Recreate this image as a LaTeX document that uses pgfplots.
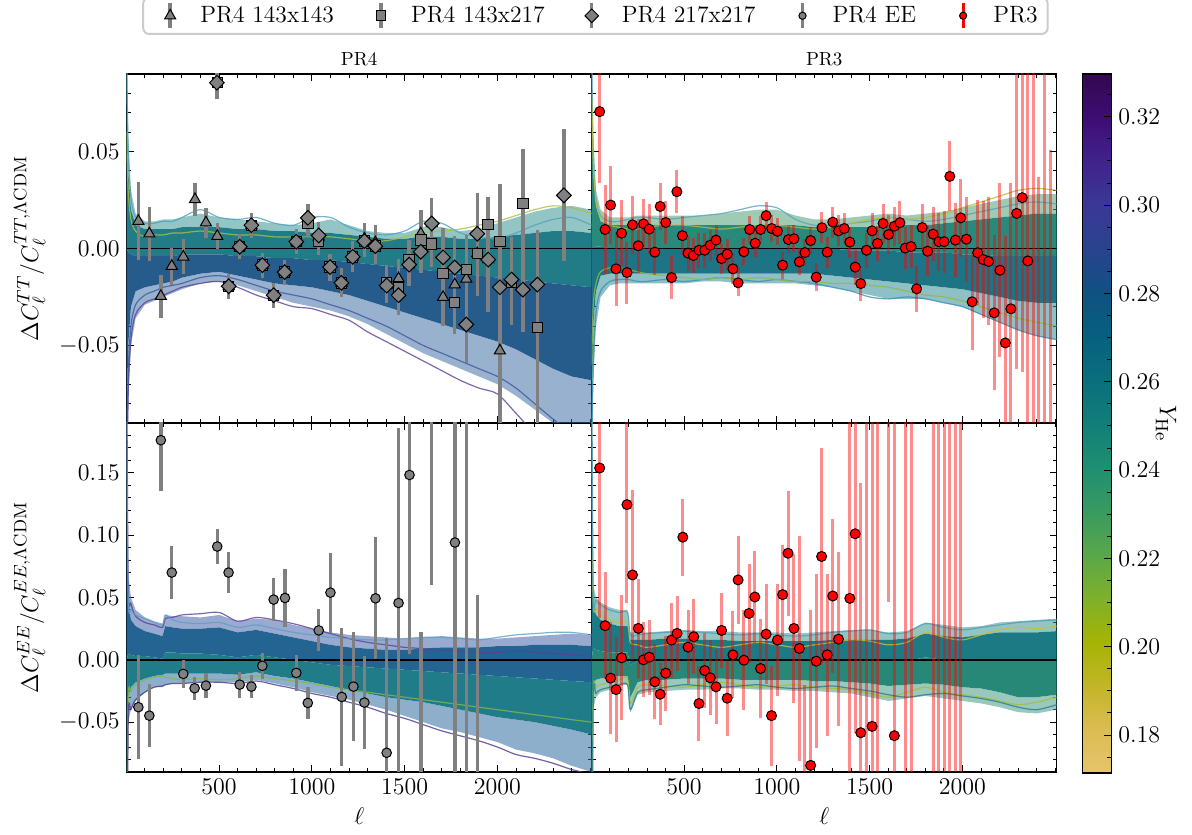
\documentclass[border=0pt]{standalone}
\usepackage{pgfplots}
\pgfplotsset{compat=1.18}
\usepackage{pgfplotstable}
\usepgfplotslibrary{groupplots,fillbetween}

\pgfplotsset{colormap={yhe}{
rgb255=(229,196,107) rgb255=(219,189,82) rgb255=(194,181,40) rgb255=(165,180,4)
rgb255=(127,176,41) rgb255=(90,167,73) rgb255=(56,154,96) rgb255=(31,143,113)
rgb255=(17,127,120) rgb255=(10,111,124) rgb255=(6,96,126) rgb255=(15,81,129)
rgb255=(41,67,141) rgb255=(58,56,150) rgb255=(64,35,140) rgb255=(62,13,116)
rgb255=(52,8,80)
}}

% ---------- model bands (envelopes + a few curves) ----------
\pgfplotstableread{
l uo ui m li lo a b c d
2 0.120 0.090 0.000 -0.090 -0.140 0.100 0.060 -0.140 -0.120
10 0.060 0.040 -0.002 -0.050 -0.080 0.050 0.030 -0.075 -0.065
25 0.030 0.020 -0.003 -0.030 -0.050 0.026 0.015 -0.047 -0.040
50 0.018 0.012 -0.004 -0.022 -0.036 0.016 0.009 -0.034 -0.029
100 0.014 0.010 -0.004 -0.020 -0.029 0.013 0.006 -0.028 -0.024
150 0.014 0.010 -0.004 -0.019 -0.027 0.013 0.007 -0.026 -0.022
200 0.015 0.010 -0.004 -0.018 -0.025 0.014 0.007 -0.024 -0.020
250 0.015 0.010 -0.004 -0.017 -0.023 0.014 0.008 -0.022 -0.019
300 0.016 0.011 -0.003 -0.015 -0.021 0.016 0.008 -0.020 -0.018
400 0.018 0.011 -0.003 -0.013 -0.018 0.020 0.009 -0.018 -0.015
500 0.016 0.011 -0.003 -0.012 -0.017 0.016 0.008 -0.017 -0.014
600 0.015 0.010 -0.004 -0.014 -0.019 0.015 0.007 -0.020 -0.016
700 0.014 0.010 -0.004 -0.016 -0.022 0.016 0.007 -0.024 -0.019
800 0.013 0.009 -0.005 -0.018 -0.025 0.013 0.006 -0.027 -0.022
900 0.012 0.009 -0.005 -0.019 -0.028 0.012 0.006 -0.030 -0.024
1000 0.013 0.008 -0.006 -0.020 -0.030 0.016 0.006 -0.031 -0.026
1100 0.015 0.008 -0.006 -0.022 -0.032 0.016 0.006 -0.034 -0.029
1200 0.012 0.007 -0.007 -0.024 -0.035 0.011 0.005 -0.037 -0.032
1300 0.009 0.006 -0.008 -0.027 -0.039 0.008 0.004 -0.043 -0.036
1400 0.008 0.005 -0.009 -0.030 -0.044 0.007 0.004 -0.048 -0.040
1500 0.008 0.005 -0.010 -0.033 -0.049 0.009 0.006 -0.053 -0.045
1600 0.011 0.006 -0.011 -0.036 -0.054 0.014 0.008 -0.058 -0.050
1700 0.011 0.006 -0.012 -0.039 -0.058 0.013 0.009 -0.063 -0.054
1800 0.009 0.005 -0.013 -0.042 -0.062 0.008 0.010 -0.068 -0.058
1900 0.010 0.005 -0.014 -0.045 -0.066 0.006 0.012 -0.072 -0.062
2000 0.013 0.006 -0.015 -0.048 -0.070 0.005 0.014 -0.075 -0.066
2100 0.016 0.007 -0.016 -0.052 -0.076 0.008 0.017 -0.085 -0.072
2200 0.019 0.008 -0.017 -0.057 -0.083 0.012 0.020 -0.095 -0.080
2300 0.021 0.009 -0.018 -0.062 -0.090 0.015 0.022 -0.100 -0.088
2400 0.022 0.009 -0.019 -0.066 -0.095 0.016 0.021 -0.105 -0.095
2508 0.020 0.008 -0.020 -0.068 -0.100 0.012 0.018 -0.110 -0.100
}\bandA

\pgfplotstableread{
l uo ui m li lo a b c d
2 0.120 0.090 0.000 -0.090 -0.120 0.100 0.080 -0.110 -0.060
10 0.060 0.040 0.000 -0.040 -0.070 0.050 0.045 -0.060 -0.030
25 0.030 0.022 0.001 -0.022 -0.040 0.026 0.024 -0.033 -0.018
50 0.020 0.014 0.001 -0.014 -0.025 0.017 0.016 -0.022 -0.012
100 0.016 0.012 0.000 -0.013 -0.019 0.014 0.012 -0.017 -0.010
150 0.016 0.012 0.000 -0.013 -0.018 0.014 0.011 -0.016 -0.010
200 0.016 0.012 0.000 -0.013 -0.018 0.015 0.010 -0.016 -0.011
250 0.017 0.012 0.000 -0.013 -0.018 0.016 0.010 -0.017 -0.012
300 0.017 0.012 0.000 -0.013 -0.018 0.016 0.011 -0.017 -0.013
400 0.017 0.012 0.000 -0.013 -0.018 0.015 0.012 -0.016 -0.014
500 0.017 0.012 0.000 -0.013 -0.018 0.016 0.012 -0.017 -0.015
600 0.017 0.012 0.000 -0.013 -0.017 0.017 0.011 -0.016 -0.016
700 0.018 0.012 0.000 -0.013 -0.017 0.018 0.010 -0.015 -0.015
800 0.019 0.012 0.000 -0.013 -0.018 0.020 0.011 -0.016 -0.016
900 0.020 0.012 0.000 -0.013 -0.018 0.022 0.012 -0.017 -0.015
1000 0.020 0.012 0.000 -0.013 -0.018 0.021 0.012 -0.016 -0.016
1100 0.017 0.012 0.000 -0.013 -0.018 0.015 0.011 -0.017 -0.017
1200 0.015 0.011 0.000 -0.013 -0.019 0.012 0.010 -0.018 -0.017
1300 0.015 0.011 0.000 -0.014 -0.020 0.012 0.011 -0.020 -0.018
1400 0.016 0.011 -0.001 -0.015 -0.022 0.013 0.013 -0.022 -0.018
1500 0.017 0.011 -0.001 -0.016 -0.024 0.014 0.015 -0.025 -0.019
1600 0.018 0.012 -0.001 -0.017 -0.026 0.016 0.016 -0.026 -0.020
1700 0.017 0.012 -0.002 -0.018 -0.026 0.015 0.015 -0.025 -0.022
1800 0.018 0.012 -0.002 -0.019 -0.026 0.014 0.016 -0.026 -0.024
1900 0.019 0.013 -0.002 -0.020 -0.028 0.015 0.018 -0.028 -0.025
2000 0.021 0.014 -0.003 -0.021 -0.030 0.017 0.021 -0.030 -0.027
2100 0.023 0.015 -0.003 -0.023 -0.034 0.019 0.024 -0.034 -0.030
2200 0.025 0.016 -0.004 -0.025 -0.038 0.021 0.027 -0.038 -0.033
2300 0.027 0.017 -0.004 -0.027 -0.042 0.023 0.030 -0.042 -0.036
2400 0.028 0.018 -0.004 -0.028 -0.045 0.024 0.031 -0.045 -0.038
2508 0.028 0.018 -0.004 -0.028 -0.047 0.023 0.030 -0.047 -0.040
}\bandB

\pgfplotstableread{
l uo ui m li lo a b c d
2 0.250 0.200 0.000 -0.200 -0.250 0.25 -0.2 -0.25 0.2
10 0.070 0.045 0.005 -0.030 -0.050 0.06 -0.035 -0.05 0.05
25 0.050 0.032 0.004 -0.022 -0.040 0.045 -0.025 -0.04 0.04
50 0.040 0.027 0.003 -0.018 -0.033 0.035 -0.02 -0.032 0.036
100 0.034 0.023 0.003 -0.015 -0.026 0.03 -0.016 -0.026 0.033
150 0.031 0.021 0.002 -0.013 -0.022 0.028 -0.014 -0.022 0.030
195 0.029 0.019 0.001 -0.012 -0.022 0.026 -0.013 -0.021 0.028
210 0.036 0.027 0.006 -0.011 -0.020 0.033 -0.014 -0.020 0.036
250 0.035 0.026 0.006 -0.011 -0.019 0.034 -0.015 -0.019 0.032
300 0.035 0.025 0.005 -0.011 -0.019 0.036 -0.016 -0.019 0.030
400 0.034 0.025 0.005 -0.011 -0.018 0.037 -0.015 -0.018 0.029
500 0.036 0.026 0.004 -0.011 -0.018 0.038 -0.016 -0.018 0.030
600 0.031 0.022 0.002 -0.012 -0.018 0.031 -0.015 -0.019 0.026
700 0.033 0.024 0.004 -0.010 -0.016 0.034 -0.013 -0.017 0.028
800 0.032 0.021 0.002 -0.013 -0.019 0.032 -0.015 -0.020 0.025
900 0.028 0.018 0.000 -0.015 -0.022 0.029 -0.017 -0.023 0.022
1000 0.025 0.015 -0.002 -0.018 -0.026 0.025 -0.019 -0.027 0.020
1100 0.022 0.012 -0.004 -0.021 -0.029 0.021 -0.022 -0.030 0.018
1200 0.020 0.010 -0.005 -0.024 -0.032 0.017 -0.024 -0.034 0.017
1300 0.019 0.009 -0.006 -0.027 -0.036 0.014 -0.026 -0.038 0.016
1400 0.018 0.008 -0.007 -0.030 -0.040 0.012 -0.028 -0.043 0.016
1500 0.017 0.008 -0.008 -0.032 -0.045 0.010 -0.030 -0.047 0.017
1600 0.018 0.009 -0.009 -0.034 -0.050 0.009 -0.032 -0.052 0.018
1700 0.019 0.010 -0.010 -0.037 -0.055 0.008 -0.034 -0.057 0.018
1800 0.018 0.010 -0.011 -0.040 -0.058 0.007 -0.036 -0.061 0.017
1900 0.017 0.010 -0.012 -0.043 -0.062 0.006 -0.038 -0.065 0.016
2000 0.017 0.011 -0.013 -0.046 -0.066 0.006 -0.040 -0.070 0.018
2100 0.018 0.011 -0.014 -0.048 -0.072 0.007 -0.042 -0.076 0.020
2200 0.019 0.012 -0.015 -0.050 -0.075 0.006 -0.044 -0.079 0.021
2300 0.020 0.012 -0.016 -0.053 -0.079 0.005 -0.046 -0.083 0.022
2400 0.021 0.012 -0.017 -0.056 -0.085 0.004 -0.048 -0.088 0.022
2508 0.020 0.011 -0.018 -0.060 -0.090 0.003 -0.050 -0.092 0.020
}\bandC

\pgfplotstableread{
l uo ui m li lo a b c d
2 0.250 0.200 0.000 -0.200 -0.250 0.2 -0.2 0.25 -0.25
10 0.060 0.045 0.010 -0.020 -0.040 0.050 -0.03 0.055 -0.035
25 0.050 0.036 0.008 -0.016 -0.030 0.042 -0.022 0.048 -0.027
50 0.046 0.032 0.007 -0.015 -0.026 0.036 -0.02 0.044 -0.024
100 0.042 0.029 0.006 -0.014 -0.024 0.032 -0.018 0.040 -0.022
150 0.040 0.027 0.006 -0.013 -0.021 0.030 -0.016 0.038 -0.020
195 0.040 0.027 0.006 -0.013 -0.020 0.030 -0.015 0.038 -0.020
210 0.022 0.016 -0.004 -0.030 -0.042 0.014 -0.035 0.020 -0.040
250 0.022 0.016 -0.001 -0.018 -0.028 0.012 -0.022 0.020 -0.026
300 0.022 0.016 0.000 -0.016 -0.026 0.010 -0.020 0.021 -0.024
400 0.023 0.017 0.000 -0.016 -0.025 0.012 -0.021 0.022 -0.022
500 0.024 0.017 0.000 -0.015 -0.024 0.014 -0.022 0.023 -0.020
600 0.023 0.016 0.000 -0.015 -0.024 0.012 -0.020 0.022 -0.021
700 0.023 0.016 0.000 -0.015 -0.023 0.010 -0.018 0.021 -0.022
800 0.022 0.015 0.000 -0.016 -0.023 0.012 -0.020 0.020 -0.021
900 0.022 0.015 0.000 -0.016 -0.024 0.014 -0.022 0.021 -0.020
1000 0.022 0.015 0.000 -0.016 -0.024 0.012 -0.021 0.020 -0.022
1100 0.021 0.015 0.000 -0.016 -0.025 0.010 -0.020 0.019 -0.023
1200 0.022 0.015 0.000 -0.017 -0.025 0.012 -0.022 0.020 -0.022
1300 0.023 0.016 0.000 -0.017 -0.026 0.014 -0.023 0.022 -0.021
1400 0.024 0.016 0.000 -0.018 -0.027 0.016 -0.024 0.023 -0.023
1500 0.024 0.016 -0.001 -0.019 -0.030 0.015 -0.027 0.024 -0.025
1600 0.022 0.016 -0.001 -0.021 -0.033 0.012 -0.030 0.021 -0.028
1700 0.023 0.017 -0.001 -0.020 -0.031 0.014 -0.026 0.022 -0.030
1800 0.030 0.021 0.002 -0.019 -0.029 0.022 -0.022 0.029 -0.028
1900 0.028 0.019 0.000 -0.020 -0.031 0.018 -0.026 0.026 -0.027
2000 0.026 0.018 -0.001 -0.022 -0.033 0.016 -0.028 0.024 -0.029
2100 0.027 0.020 0.000 -0.023 -0.035 0.020 -0.030 0.026 -0.031
2200 0.030 0.022 0.000 -0.026 -0.038 0.024 -0.033 0.028 -0.034
2300 0.031 0.022 -0.001 -0.030 -0.042 0.026 -0.036 0.030 -0.038
2400 0.032 0.022 -0.001 -0.030 -0.043 0.025 -0.034 0.031 -0.040
2508 0.033 0.023 0.000 -0.028 -0.040 0.027 -0.030 0.032 -0.036
}\bandD

% ---------- data points ----------
\pgfplotstableread{
l v e
65 0.0141 0.020
124 0.0076 0.014
186 -0.0246 0.011
245 -0.0091 0.0096
307 -0.0043 0.009
370 0.0253 0.0084
429 0.0133 0.0077
490 0.0064 0.0069
552 -0.0195 0.0065
611 0.0009 0.0065
674 0.0120 0.0065
733 -0.0086 0.0065
794 -0.0241 0.0065
853 -0.0122 0.0065
916 0.0035 0.0065
978 0.0158 0.007
1037 0.0060 0.007
1098 -0.0096 0.007
1159 -0.0177 0.0075
1220 -0.0043 0.008
1283 0.0050 0.008
1342 0.0031 0.009
1403 -0.0191 0.009
1467 -0.0155 0.010
1524 -0.0083 0.011
1587 0.0076 0.012
1646 0.0129 0.013
1707 -0.0251 0.015
1770 -0.0186 0.017
1832 -0.0157 0.019
1891 -0.0026 0.022
1950 -0.0057 0.026
2013 -0.0527 0.073
}\ptri

\pgfplotstableread{
l v e
490 0.0855 0.0085
552 -0.0195 0.0065
611 0.0009 0.0065
674 0.0120 0.0065
733 -0.0086 0.0065
794 -0.0241 0.0065
853 -0.0122 0.0065
916 0.0035 0.0065
978 0.0129 0.007
1037 0.0038 0.007
1098 -0.0096 0.007
1159 -0.0177 0.0075
1220 -0.0043 0.008
1283 0.0038 0.008
1342 0.0012 0.009
1403 -0.0174 0.009
1467 -0.0203 0.010
1524 -0.0057 0.010
1587 0.0043 0.011
1646 0.0024 0.012
1707 -0.0129 0.014
1770 -0.0280 0.016
1832 -0.0108 0.018
1891 -0.0026 0.021
1950 0.0124 0.014
2013 0.0035 0.030
2076 -0.0176 0.022
2137 0.0231 0.028
2215 -0.0406 0.050
}\psq

\pgfplotstableread{
l v e
488 0.0855 0.0085
552 -0.0195 0.0065
611 0.0009 0.0065
674 0.0120 0.0065
733 -0.0086 0.0065
794 -0.0241 0.0065
853 -0.0122 0.0065
916 0.0035 0.0065
978 0.0158 0.007
1037 0.0067 0.007
1098 -0.0096 0.007
1159 -0.0177 0.0075
1220 -0.0043 0.008
1283 0.0038 0.008
1342 0.0012 0.009
1403 -0.0191 0.009
1467 -0.0241 0.010
1524 -0.0083 0.010
1587 -0.0017 0.011
1646 0.0129 0.013
1707 -0.0046 0.015
1770 -0.0098 0.016
1832 -0.0392 0.020
1891 0.0076 0.021
1950 -0.0057 0.027
2013 -0.0200 0.030
2076 -0.0160 0.022
2137 -0.0212 0.022
2215 -0.0186 0.028
2358 0.0274 0.034
}\pdia

\pgfplotstableread{
l v e
65 -0.0380 0.0415
124 -0.0448 0.025
186 0.1762 0.041
245 0.0700 0.0215
307 -0.0113 0.0114
368 -0.0228 0.0094
429 -0.0207 0.010
490 0.0909 0.014
551 0.0700 0.0165
611 -0.0199 0.0105
674 -0.0215 0.009
733 -0.0048 0.0105
794 0.0483 0.0175
855 0.0496 0.0232
916 -0.0105 0.0147
978 -0.0346 0.013
1037 0.0236 0.0168
1100 0.0539 0.032
1161 -0.0298 0.055
1224 -0.0215 0.0437
1283 -0.0343 0.0375
1343 0.0493 0.049
1403 -0.0746 0.092
1467 0.0456 0.14
1526 0.1483 0.144
1588 -0.1050 0.127
1646 0.2600 0.20
1771 0.0941 0.20
1832 -0.1500 0.40
1891 -0.1200 0.172
}\pee

\pgfplotstableread{
l v e
45 0.0706 0.037
74 0.0098 0.023
104 0.0224 0.020
133 -0.0105 0.019
163 0.0079 0.017
192 -0.0124 0.016
222 0.0122 0.015
253 0.0014 0.014
281 0.0127 0.013
312 0.0100 0.013
342 -0.0019 0.012
371 0.0217 0.012
401 0.0134 0.011
432 -0.0150 0.011
461 0.0293 0.011
491 0.0066 0.010
521 -0.0024 0.009
550 -0.0036 0.009
580 -0.0009 0.009
611 -0.0009 0.009
641 0.0017 0.008
672 0.0043 0.008
702 -0.0052 0.008
732 -0.0029 0.008
763 -0.0105 0.008
791 -0.0177 0.007
822 -0.0017 0.007
853 0.0098 0.007
883 0.0027 0.007
912 0.0098 0.007
942 0.0169 0.007
972 0.0103 0.007
1003 0.0089 0.007
1031 -0.0086 0.007
1062 0.0046 0.007
1092 0.0050 0.007
1121 -0.0069 0.007
1151 -0.0021 0.007
1182 0.0041 0.007
1212 -0.0148 0.007
1243 0.0107 0.008
1271 -0.0019 0.008
1301 0.0136 0.008
1332 0.0091 0.008
1363 0.0103 0.008
1393 0.0033 0.008
1422 -0.0096 0.009
1452 -0.0181 0.009
1483 -0.0009 0.009
1513 0.0091 0.009
1542 0.0026 0.009
1572 0.0129 0.010
1602 0.0072 0.010
1633 0.0115 0.010
1663 0.0133 0.011
1692 0.0002 0.011
1723 0.0010 0.011
1753 -0.0208 0.012
1783 0.0108 0.012
1812 -0.0014 0.013
1842 0.0074 0.014
1873 0.0035 0.015
1901 0.0035 0.016
1932 0.0372 0.018
1962 0.0043 0.019
1991 0.0158 0.020
2021 0.0048 0.022
2052 -0.0275 0.025
2082 -0.0022 0.027
2112 -0.0057 0.030
2141 -0.0067 0.033
2171 -0.0332 0.040
2202 -0.0112 0.045
2231 -0.0487 0.055
2261 -0.0311 0.065
2292 0.0181 0.080
2322 0.0262 0.090
2352 -0.0064 0.100
2383 -0.1200 0.250
2412 -0.1200 0.157
2442 -0.1500 0.300
2472 -0.1200 0.171
}\pthreeTT

\pgfplotstableread{
l v e
45 0.1539 0.12
74 0.0274 0.043
104 -0.0147 0.045
133 -0.0239 0.042
163 0.0016 0.05
192 0.1245 0.079
222 0.0681 0.068
253 0.0252 0.04
281 0.0000 0.03
312 0.0021 0.03
342 -0.0177 0.03
371 -0.0276 0.025
401 -0.0107 0.03
432 0.0158 0.03
462 0.0212 0.03
493 0.0984 0.031
521 0.0102 0.03
552 0.0185 0.03
580 -0.0351 0.03
611 -0.0086 0.03
641 -0.0145 0.03
672 -0.0217 0.03
702 0.0236 0.03
732 -0.0308 0.03
763 0.0040 0.035
791 0.0641 0.035
822 -0.0003 0.04
850 0.0372 0.04
881 0.0504 0.037
912 -0.0070 0.04
942 0.0206 0.04
971 -0.0448 0.04
1003 0.0158 0.045
1031 0.0523 0.04
1060 0.0855 0.05
1092 0.0252 0.06
1121 0.0091 0.09
1151 -0.1500 0.13
1182 -0.0847 0.125
1212 -0.0011 0.07
1241 0.0829 0.087
1271 0.0040 0.065
1301 0.0512 0.062
1332 0.0166 0.07
1393 0.0493 0.16
1422 0.1011 0.16
1452 -0.0585 0.2
1483 -0.2000 0.4
1513 -0.0534 0.25
1542 0.3000 0.4
1602 0.3000 0.254
1633 -0.0609 0.3
1692 0.3000 0.45
1723 0.3000 0.45
1842 0.3000 0.45
1873 -0.2000 0.45
1901 0.3000 0.45
1932 -0.2000 0.45
1962 0.3000 0.45
1991 -0.2000 0.45
}\pthreeEE

\pgfplotsset{
  gbars/.style={only marks, forget plot, color=black,
    error bars/y dir=both, error bars/y explicit, error bars/error mark=none,
    error bars/error bar style={line width=1.7pt, color=gray}},
  rbars/.style={only marks, forget plot, color=black,
    mark=*, mark size=2.5pt, mark options={fill=red, draw=black, line width=0.5pt},
    error bars/y dir=both, error bars/y explicit, error bars/error mark=none,
    error bars/error bar style={line width=1.5pt, color=red, opacity=0.45}},
  bandline/.style={smooth, forget plot, line width=0.6pt, opacity=0.8},
  fix2/.style={/pgf/number format/fixed, /pgf/number format/fixed zerofill, /pgf/number format/precision=2},
}

\begin{document}
\begin{tikzpicture}
\begin{groupplot}[
  group style={group size=2 by 2, horizontal sep=0pt, vertical sep=0pt,
    xticklabels at=edge bottom, yticklabels at=edge left},
  scale only axis, width=232.5pt, height=174.5pt,
  xmin=2, xmax=2508,
  xtick={500,1000,1500,2000},
  minor xtick={100,200,300,400,600,700,800,900,1100,1200,1300,1400,1600,1700,1800,1900,2100,2200,2300,2400,2500},
  scaled y ticks=false, scaled x ticks=false,
  tick align=inside, major tick length=3.5pt, minor tick length=2pt,
  axis line style={line width=0.6pt},
  tick style={black, line width=0.5pt},
  tick label style={font=\fontsize{12.5}{14}\selectfont},
  yticklabel style={fix2},
  xticklabel style={/pgf/number format/1000 sep={}},
  label style={font=\fontsize{12.7}{15}\selectfont},
  title style={font=\fontsize{9.5}{11}\selectfont, yshift=-5.5pt},
]
% ===================== TT PR4 =====================
\nextgroupplot[ymin=-0.09, ymax=0.09, ytick={-0.05,0,0.05},
  minor ytick={-0.08,-0.07,-0.06,-0.04,-0.03,-0.02,-0.01,0.01,0.02,0.03,0.04,0.06,0.07,0.08},
  ylabel={$\Delta C_\ell^{TT}/C_\ell^{TT,\Lambda\mathrm{CDM}}$},
  title={PR4},
  legend style={at={(1.008,1)}, anchor=south, yshift=19.5pt, legend columns=5,
    draw=black!20, line width=1pt, rounded corners=3pt,
    font=\fontsize{11.8}{13}\selectfont,
    /tikz/every even column/.append style={column sep=11pt}}]
\addlegendimage{legend image code/.code={
  \path (-10pt,0pt) (12.6pt,0pt);
  \draw[sharp corners, gray, line width=1.7pt] (0cm,-0.22cm) -- (0cm,0.22cm);
  \draw[sharp corners] plot[mark=triangle*, mark size=3.2pt, mark options={fill=gray, draw=black, line width=0.5pt}] coordinates {(0cm,0cm)};}}
\addlegendentry{PR4 143x143}
\addlegendimage{legend image code/.code={
  \path (-10pt,0pt) (12.6pt,0pt);
  \draw[sharp corners, gray, line width=1.7pt] (0cm,-0.22cm) -- (0cm,0.22cm);
  \draw[sharp corners] plot[mark=square*, mark size=2.4pt, mark options={fill=gray, draw=black, line width=0.5pt}] coordinates {(0cm,0cm)};}}
\addlegendentry{PR4 143x217}
\addlegendimage{legend image code/.code={
  \path (-10pt,0pt) (12.6pt,0pt);
  \draw[sharp corners, gray, line width=1.7pt] (0cm,-0.22cm) -- (0cm,0.22cm);
  \draw[sharp corners] plot[mark=square*, mark size=2.4pt, mark options={fill=gray, draw=black, line width=0.5pt, rotate=45}] coordinates {(0cm,0cm)};}}
\addlegendentry{PR4 217x217}
\addlegendimage{legend image code/.code={
  \path (-10pt,0pt) (12.6pt,0pt);
  \draw[sharp corners, gray, line width=1.7pt] (0cm,-0.22cm) -- (0cm,0.22cm);
  \draw[sharp corners] plot[mark=*, mark size=1.8pt, mark options={fill=gray, draw=black, line width=0.5pt}] coordinates {(0cm,0cm)};}}
\addlegendentry{PR4 EE}
\addlegendimage{legend image code/.code={
  \path (-10pt,0pt) (12.6pt,0pt);
  \draw[sharp corners, red, line width=1.5pt] (0cm,-0.22cm) -- (0cm,0.22cm);
  \draw[sharp corners] plot[mark=*, mark size=1.8pt, mark options={fill=red, draw=black, line width=0.5pt}] coordinates {(0cm,0cm)};}}
\addlegendentry{PR3}
\addplot[draw=none, forget plot, name path=AUO] table[x=l,y=uo]{\bandA};
\addplot[draw=none, forget plot, name path=AUI] table[x=l,y=ui]{\bandA};
\addplot[draw=none, forget plot, name path=AM] table[x=l,y=m]{\bandA};
\addplot[draw=none, forget plot, name path=ALI] table[x=l,y=li]{\bandA};
\addplot[draw=none, forget plot, name path=ALO] table[x=l,y=lo]{\bandA};
\addplot[fill={rgb,255:red,60;green,150;blue,150}, fill opacity=0.55, forget plot] fill between[of=AUO and AUI];
\addplot[fill={rgb,255:red,34;green,124;blue,136}, forget plot] fill between[of=AUI and AM];
\addplot[fill={rgb,255:red,38;green,92;blue,140}, forget plot] fill between[of=AM and ALI];
\addplot[fill={rgb,255:red,50;green,100;blue,160}, fill opacity=0.5, forget plot] fill between[of=ALI and ALO];
\addplot[bandline, color={rgb,255:red,80;green,160;blue,192}] table[x=l,y=a]{\bandA};
\addplot[bandline, color={rgb,255:red,170;green,192;blue,64}] table[x=l,y=b]{\bandA};
\addplot[bandline, color={rgb,255:red,92;green,64;blue,153}] table[x=l,y=c]{\bandA};
\addplot[bandline, color={rgb,255:red,64;green,88;blue,160}] table[x=l,y=d]{\bandA};
\addplot[black, line width=0.7pt, forget plot] coordinates {(2,0) (2508,0)};
\addplot[gbars, mark=triangle*, mark size=3.2pt, mark options={fill=gray, draw=black, line width=0.5pt}] table[x=l,y=v,y error=e]{\ptri};
\addplot[gbars, mark=square*, mark size=2.6pt, mark options={fill=gray, draw=black, line width=0.5pt}] table[x=l,y=v,y error=e]{\psq};
\addplot[gbars, mark=square*, mark size=2.6pt, mark options={fill=gray, draw=black, line width=0.5pt, rotate=45}] table[x=l,y=v,y error=e]{\pdia};

% ===================== TT PR3 =====================
\nextgroupplot[ymin=-0.09, ymax=0.09, ytick={-0.05,0,0.05},
  minor ytick={-0.08,-0.07,-0.06,-0.04,-0.03,-0.02,-0.01,0.01,0.02,0.03,0.04,0.06,0.07,0.08},
  title={PR3},
  colorbar, colormap name=yhe, point meta min=0.1714, point meta max=0.3297,
  colorbar style={at={(parent axis.north east)}, anchor=north west, xshift=4.2pt,
    xtick=\empty, minor xtick=\empty, title={},
    scale only axis, width=14.5pt, height=349.5pt,
    ytick={0.18,0.20,0.22,0.24,0.26,0.28,0.30,0.32},
    minor ytick={0.175,0.185,0.19,0.195,0.205,0.21,0.215,0.225,0.23,0.235,0.245,0.25,0.255,0.265,0.27,0.275,0.285,0.29,0.295,0.305,0.31,0.315,0.325},
    yticklabel pos=right, ytick pos=right, tick align=inside,
    major tick length=3.5pt, minor tick length=2pt,
    tick style={black, line width=0.5pt},
    axis line style={line width=0.6pt},
    yticklabel style={font=\fontsize{12.5}{14}\selectfont, fix2},
    ylabel={$Y_{\mathrm{He}}$}, ylabel shift=-9pt,
    ylabel style={rotate=180, font=\fontsize{12.7}{15}\selectfont}}]
\addplot[draw=none, forget plot, name path=BUO] table[x=l,y=uo]{\bandB};
\addplot[draw=none, forget plot, name path=BUI] table[x=l,y=ui]{\bandB};
\addplot[draw=none, forget plot, name path=BM] table[x=l,y=m]{\bandB};
\addplot[draw=none, forget plot, name path=BLI] table[x=l,y=li]{\bandB};
\addplot[draw=none, forget plot, name path=BLO] table[x=l,y=lo]{\bandB};
\addplot[fill={rgb,255:red,80;green,160;blue,120}, fill opacity=0.55, forget plot] fill between[of=BUO and BUI];
\addplot[fill={rgb,255:red,40;green,138;blue,122}, forget plot] fill between[of=BUI and BM];
\addplot[fill={rgb,255:red,28;green,116;blue,132}, forget plot] fill between[of=BM and BLI];
\addplot[fill={rgb,255:red,50;green,140;blue,150}, fill opacity=0.55, forget plot] fill between[of=BLI and BLO];
\addplot[bandline, color={rgb,255:red,90;green,159;blue,192}] table[x=l,y=a]{\bandB};
\addplot[bandline, color={rgb,255:red,181;green,189;blue,58}] table[x=l,y=b]{\bandB};
\addplot[bandline, color={rgb,255:red,58;green,143;blue,176}] table[x=l,y=c]{\bandB};
\addplot[bandline, color={rgb,255:red,141;green,187;blue,64}] table[x=l,y=d]{\bandB};
\addplot[black, line width=0.7pt, forget plot] coordinates {(2,0) (2508,0)};
\addplot[rbars] table[x=l,y=v,y error=e]{\pthreeTT};

% ===================== EE PR4 =====================
\nextgroupplot[ymin=-0.09, ymax=0.19, ytick={-0.05,0,0.05,0.10,0.15},
  minor ytick={-0.08,-0.07,-0.06,-0.04,-0.03,-0.02,-0.01,0.01,0.02,0.03,0.04,0.06,0.07,0.08,0.09,0.11,0.12,0.13,0.14,0.16,0.17,0.18},
  ylabel={$\Delta C_\ell^{EE}/C_\ell^{EE,\Lambda\mathrm{CDM}}$},
  xlabel={$\ell$}]
\addplot[draw=none, forget plot, name path=CUO] table[x=l,y=uo]{\bandC};
\addplot[draw=none, forget plot, name path=CUI] table[x=l,y=ui]{\bandC};
\addplot[draw=none, forget plot, name path=CM] table[x=l,y=m]{\bandC};
\addplot[draw=none, forget plot, name path=CLI] table[x=l,y=li]{\bandC};
\addplot[draw=none, forget plot, name path=CLO] table[x=l,y=lo]{\bandC};
\addplot[fill={rgb,255:red,70;green,100;blue,170}, fill opacity=0.55, forget plot] fill between[of=CUO and CUI];
\addplot[fill={rgb,255:red,36;green,100;blue,146}, forget plot] fill between[of=CUI and CM];
\addplot[fill={rgb,255:red,32;green,124;blue,136}, forget plot] fill between[of=CM and CLI];
\addplot[fill={rgb,255:red,50;green,110;blue,160}, fill opacity=0.55, forget plot] fill between[of=CLI and CLO];
\addplot[bandline, color={rgb,255:red,91;green,63;blue,153}] table[x=l,y=a]{\bandC};
\addplot[bandline, color={rgb,255:red,127;green,184;blue,74}] table[x=l,y=b]{\bandC};
\addplot[bandline, color={rgb,255:red,74;green,58;blue,144}] table[x=l,y=c]{\bandC};
\addplot[bandline, color={rgb,255:red,93;green,159;blue,197}] table[x=l,y=d]{\bandC};
\addplot[black, line width=0.7pt, forget plot] coordinates {(2,0) (2508,0)};
\addplot[gbars, mark=*, mark size=2.4pt, mark options={fill=gray, draw=black, line width=0.5pt}] table[x=l,y=v,y error=e]{\pee};

% ===================== EE PR3 =====================
\nextgroupplot[ymin=-0.09, ymax=0.19, ytick={-0.05,0,0.05,0.10,0.15},
  minor ytick={-0.08,-0.07,-0.06,-0.04,-0.03,-0.02,-0.01,0.01,0.02,0.03,0.04,0.06,0.07,0.08,0.09,0.11,0.12,0.13,0.14,0.16,0.17,0.18},
  xlabel={$\ell$}]
\addplot[draw=none, forget plot, name path=DUO] table[x=l,y=uo]{\bandD};
\addplot[draw=none, forget plot, name path=DUI] table[x=l,y=ui]{\bandD};
\addplot[draw=none, forget plot, name path=DM] table[x=l,y=m]{\bandD};
\addplot[draw=none, forget plot, name path=DLI] table[x=l,y=li]{\bandD};
\addplot[draw=none, forget plot, name path=DLO] table[x=l,y=lo]{\bandD};
\addplot[fill={rgb,255:red,60;green,150;blue,140}, fill opacity=0.55, forget plot] fill between[of=DUO and DUI];
\addplot[fill={rgb,255:red,28;green,122;blue,132}, forget plot] fill between[of=DUI and DM];
\addplot[fill={rgb,255:red,40;green,136;blue,120}, forget plot] fill between[of=DM and DLI];
\addplot[fill={rgb,255:red,70;green,155;blue,135}, fill opacity=0.55, forget plot] fill between[of=DLI and DLO];
\addplot[bandline, color={rgb,255:red,201;green,190;blue,58}] table[x=l,y=a]{\bandD};
\addplot[bandline, color={rgb,255:red,165;green,191;blue,53}] table[x=l,y=b]{\bandD};
\addplot[bandline, color={rgb,255:red,75;green,158;blue,192}] table[x=l,y=c]{\bandD};
\addplot[bandline, color={rgb,255:red,42;green,122;blue,144}] table[x=l,y=d]{\bandD};
\addplot[black, line width=0.7pt, forget plot] coordinates {(2,0) (2508,0)};
\addplot[rbars] table[x=l,y=v,y error=e]{\pthreeEE};
\end{groupplot}
\pgfresetboundingbox
\path[use as bounding box] ([xshift=-63.35pt,yshift=37pt]group c1r1.north west) rectangle ([xshift=532.65pt,yshift=-380pt]group c1r1.north west);
\end{tikzpicture}
\end{document}
